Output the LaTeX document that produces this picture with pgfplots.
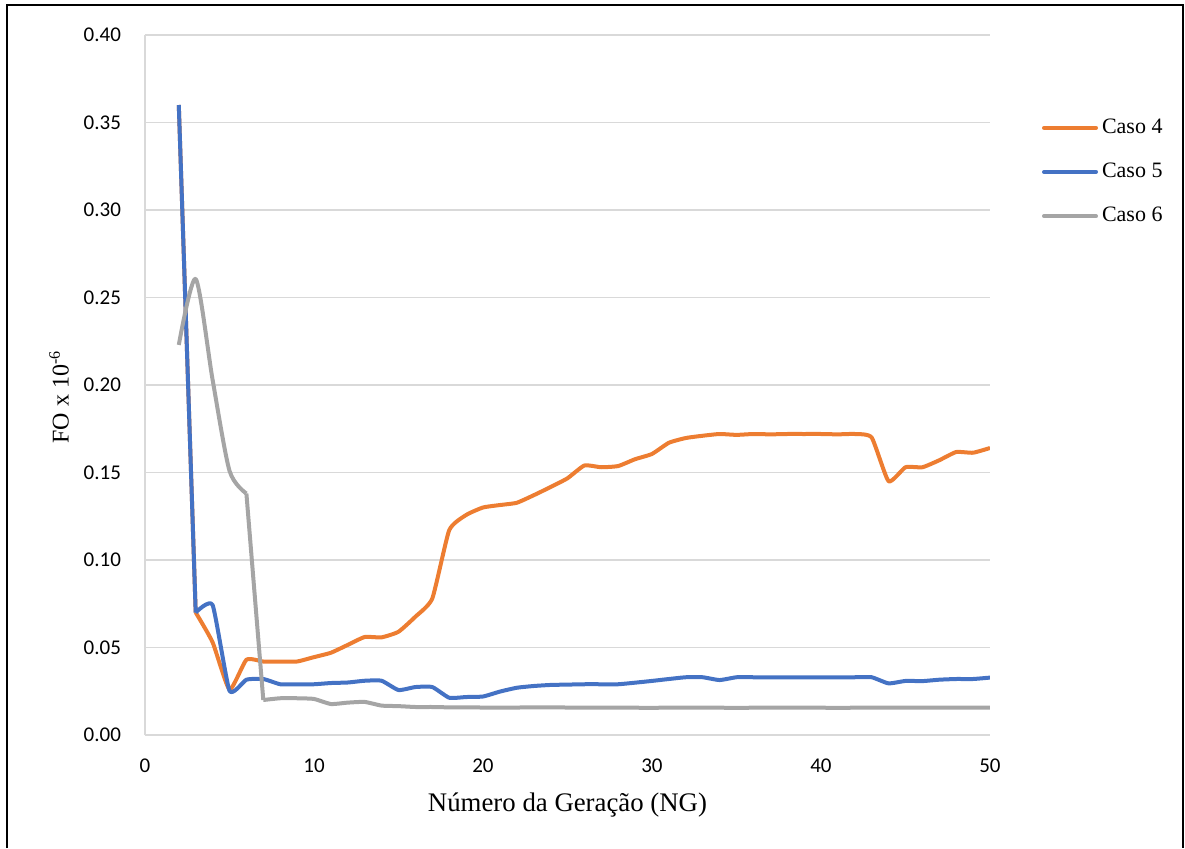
\documentclass[border=0pt]{standalone}
\usepackage{fontspec}
\setmainfont{Liberation Serif}
\newfontfamily\carlito{Carlito}
\usepackage{pgfplots}
\pgfplotsset{compat=1.18}
\usepackage{pgfplotstable}

\definecolor{caso4}{HTML}{ED7D31}
\definecolor{caso5}{HTML}{4472C4}
\definecolor{caso6}{HTML}{A5A5A5}
\definecolor{gridgray}{HTML}{D9D9D9}

% FO (x 10^-6) per generation
\pgfplotstableread{
ng fo
2 0.360
3 0.070
4 0.053
5 0.026
6 0.043
7 0.042
8 0.042
9 0.042
10 0.0445
11 0.047
12 0.0515
13 0.056
14 0.0558
15 0.059
16 0.0676
17 0.078
18 0.117
19 0.1257
20 0.130
21 0.1314
22 0.1327
23 0.137
24 0.1417
25 0.1467
26 0.154
27 0.153
28 0.1537
29 0.1576
30 0.1606
31 0.167
32 0.1697
33 0.171
34 0.172
35 0.1715
36 0.172
37 0.1718
38 0.172
39 0.172
40 0.172
41 0.1718
42 0.172
43 0.170
44 0.145
45 0.153
46 0.153
47 0.157
48 0.1617
49 0.1613
50 0.164
}\casoquatro

\pgfplotstableread{
ng fo
2 0.360
3 0.070
4 0.0743
5 0.0253
6 0.0316
7 0.032
8 0.029
9 0.029
10 0.029
11 0.0297
12 0.030
13 0.031
14 0.031
15 0.0257
16 0.0274
17 0.0274
18 0.0213
19 0.0217
20 0.022
21 0.0248
22 0.027
23 0.028
24 0.0286
25 0.0288
26 0.029
27 0.029
28 0.029
29 0.0299
30 0.0309
31 0.032
32 0.033
33 0.033
34 0.0314
35 0.033
36 0.033
37 0.033
38 0.033
39 0.033
40 0.033
41 0.033
42 0.033
43 0.033
44 0.0295
45 0.0309
46 0.0308
47 0.0316
48 0.032
49 0.032
50 0.0328
}\casocinco

\pgfplotstableread{
ng fo
2 0.2229
3 0.2606
4 0.203
5 0.151
6 0.138
7 0.020
8 0.021
9 0.021
10 0.0206
11 0.0177
12 0.0185
13 0.0189
14 0.0168
15 0.0165
16 0.0160
17 0.0160
18 0.0158
19 0.0158
20 0.0157
21 0.0157
22 0.0157
23 0.0158
24 0.0158
25 0.0157
26 0.0156
27 0.0156
28 0.0157
29 0.0156
30 0.0155
31 0.0157
32 0.0157
33 0.0156
34 0.0156
35 0.0155
36 0.0156
37 0.0156
38 0.0156
39 0.0156
40 0.0156
41 0.0155
42 0.0156
43 0.0156
44 0.0156
45 0.0157
46 0.0157
47 0.0156
48 0.0156
49 0.0156
50 0.0156
}\casoseis

\begin{document}
\begin{tikzpicture}
\path[use as bounding box] (0,0) rectangle (592.5pt,424pt);
\begin{axis}[
  at={(72.5pt,56.5pt)}, anchor=south west,
  scale only axis, width=422.5pt, height=350pt,
  xmin=0, xmax=50, ymin=0, ymax=0.40,
  xtick={0,10,...,50},
  ytick={0,0.05,...,0.401},
  axis x line=bottom, axis y line=left,
  axis line style={gridgray, line width=0.75pt, -},
  major tick length=0pt,
  ymajorgrids, grid style={gridgray, line width=0.75pt},
  /pgf/number format/assume math mode=true,
  tick label style={font=\carlito\fontsize{10.5}{12}\selectfont, black},
  yticklabel style={/pgf/number format/fixed, /pgf/number format/fixed zerofill,
                    /pgf/number format/precision=2, xshift=-8.5pt},
  xticklabel style={yshift=-8.5pt},
  xlabel={Número da Geração (NG)},
  ylabel={FO x 10\textsuperscript{-6}},
  xlabel style={font=\fontsize{13.4}{15}\selectfont, at={(axis description cs:0.5,0)}, anchor=center, yshift=-35pt},
  ylabel style={font=\fontsize{12}{14}\selectfont, at={(axis description cs:0,0.5)}, anchor=center, xshift=-6pt, yshift=43pt},
  legend style={at={(1.054,0.892)}, anchor=north west, draw=none, fill=none,
                font=\fontsize{11}{13}\selectfont, row sep=9.3pt,
                /tikz/every even column/.append style={column sep=0pt}},
  legend cell align=left,
  legend image code/.code={\draw[#1, line cap=round] (0pt,0pt) -- (26pt,0pt);},
  every axis plot/.append style={line width=2pt, mark=none, line join=round},
  curve/.style={smooth, tension=0.3},
]
% Caso 4: steep first drop drawn straight, the rest smoothed
\addplot[caso4, forget plot, restrict x to domain=2:3] table[x=ng, y=fo] {\casoquatro};
\addplot[caso4, curve, restrict x to domain=3:50] table[x=ng, y=fo] {\casoquatro};
\addlegendentry{Caso 4}
% Caso 5
\addplot[caso5, forget plot, restrict x to domain=2:3] table[x=ng, y=fo] {\casocinco};
\addplot[caso5, curve, restrict x to domain=3:50] table[x=ng, y=fo] {\casocinco};
\addlegendentry{Caso 5}
% Caso 6: smoothed before and after the drop at generation 6-7
\addplot[caso6, smooth, tension=0.45, restrict x to domain=2:6] table[x=ng, y=fo] {\casoseis};
\addlegendentry{Caso 6}
\addplot[caso6, forget plot, restrict x to domain=6:7] table[x=ng, y=fo] {\casoseis};
\addplot[caso6, forget plot, curve, restrict x to domain=7:50] table[x=ng, y=fo] {\casoseis};
\end{axis}
\draw[black, line width=1pt] (3.5pt,0pt) -- (3.5pt,421.5pt) -- (591.5pt,421.5pt) -- (591.5pt,0pt);
\end{tikzpicture}
\end{document}
